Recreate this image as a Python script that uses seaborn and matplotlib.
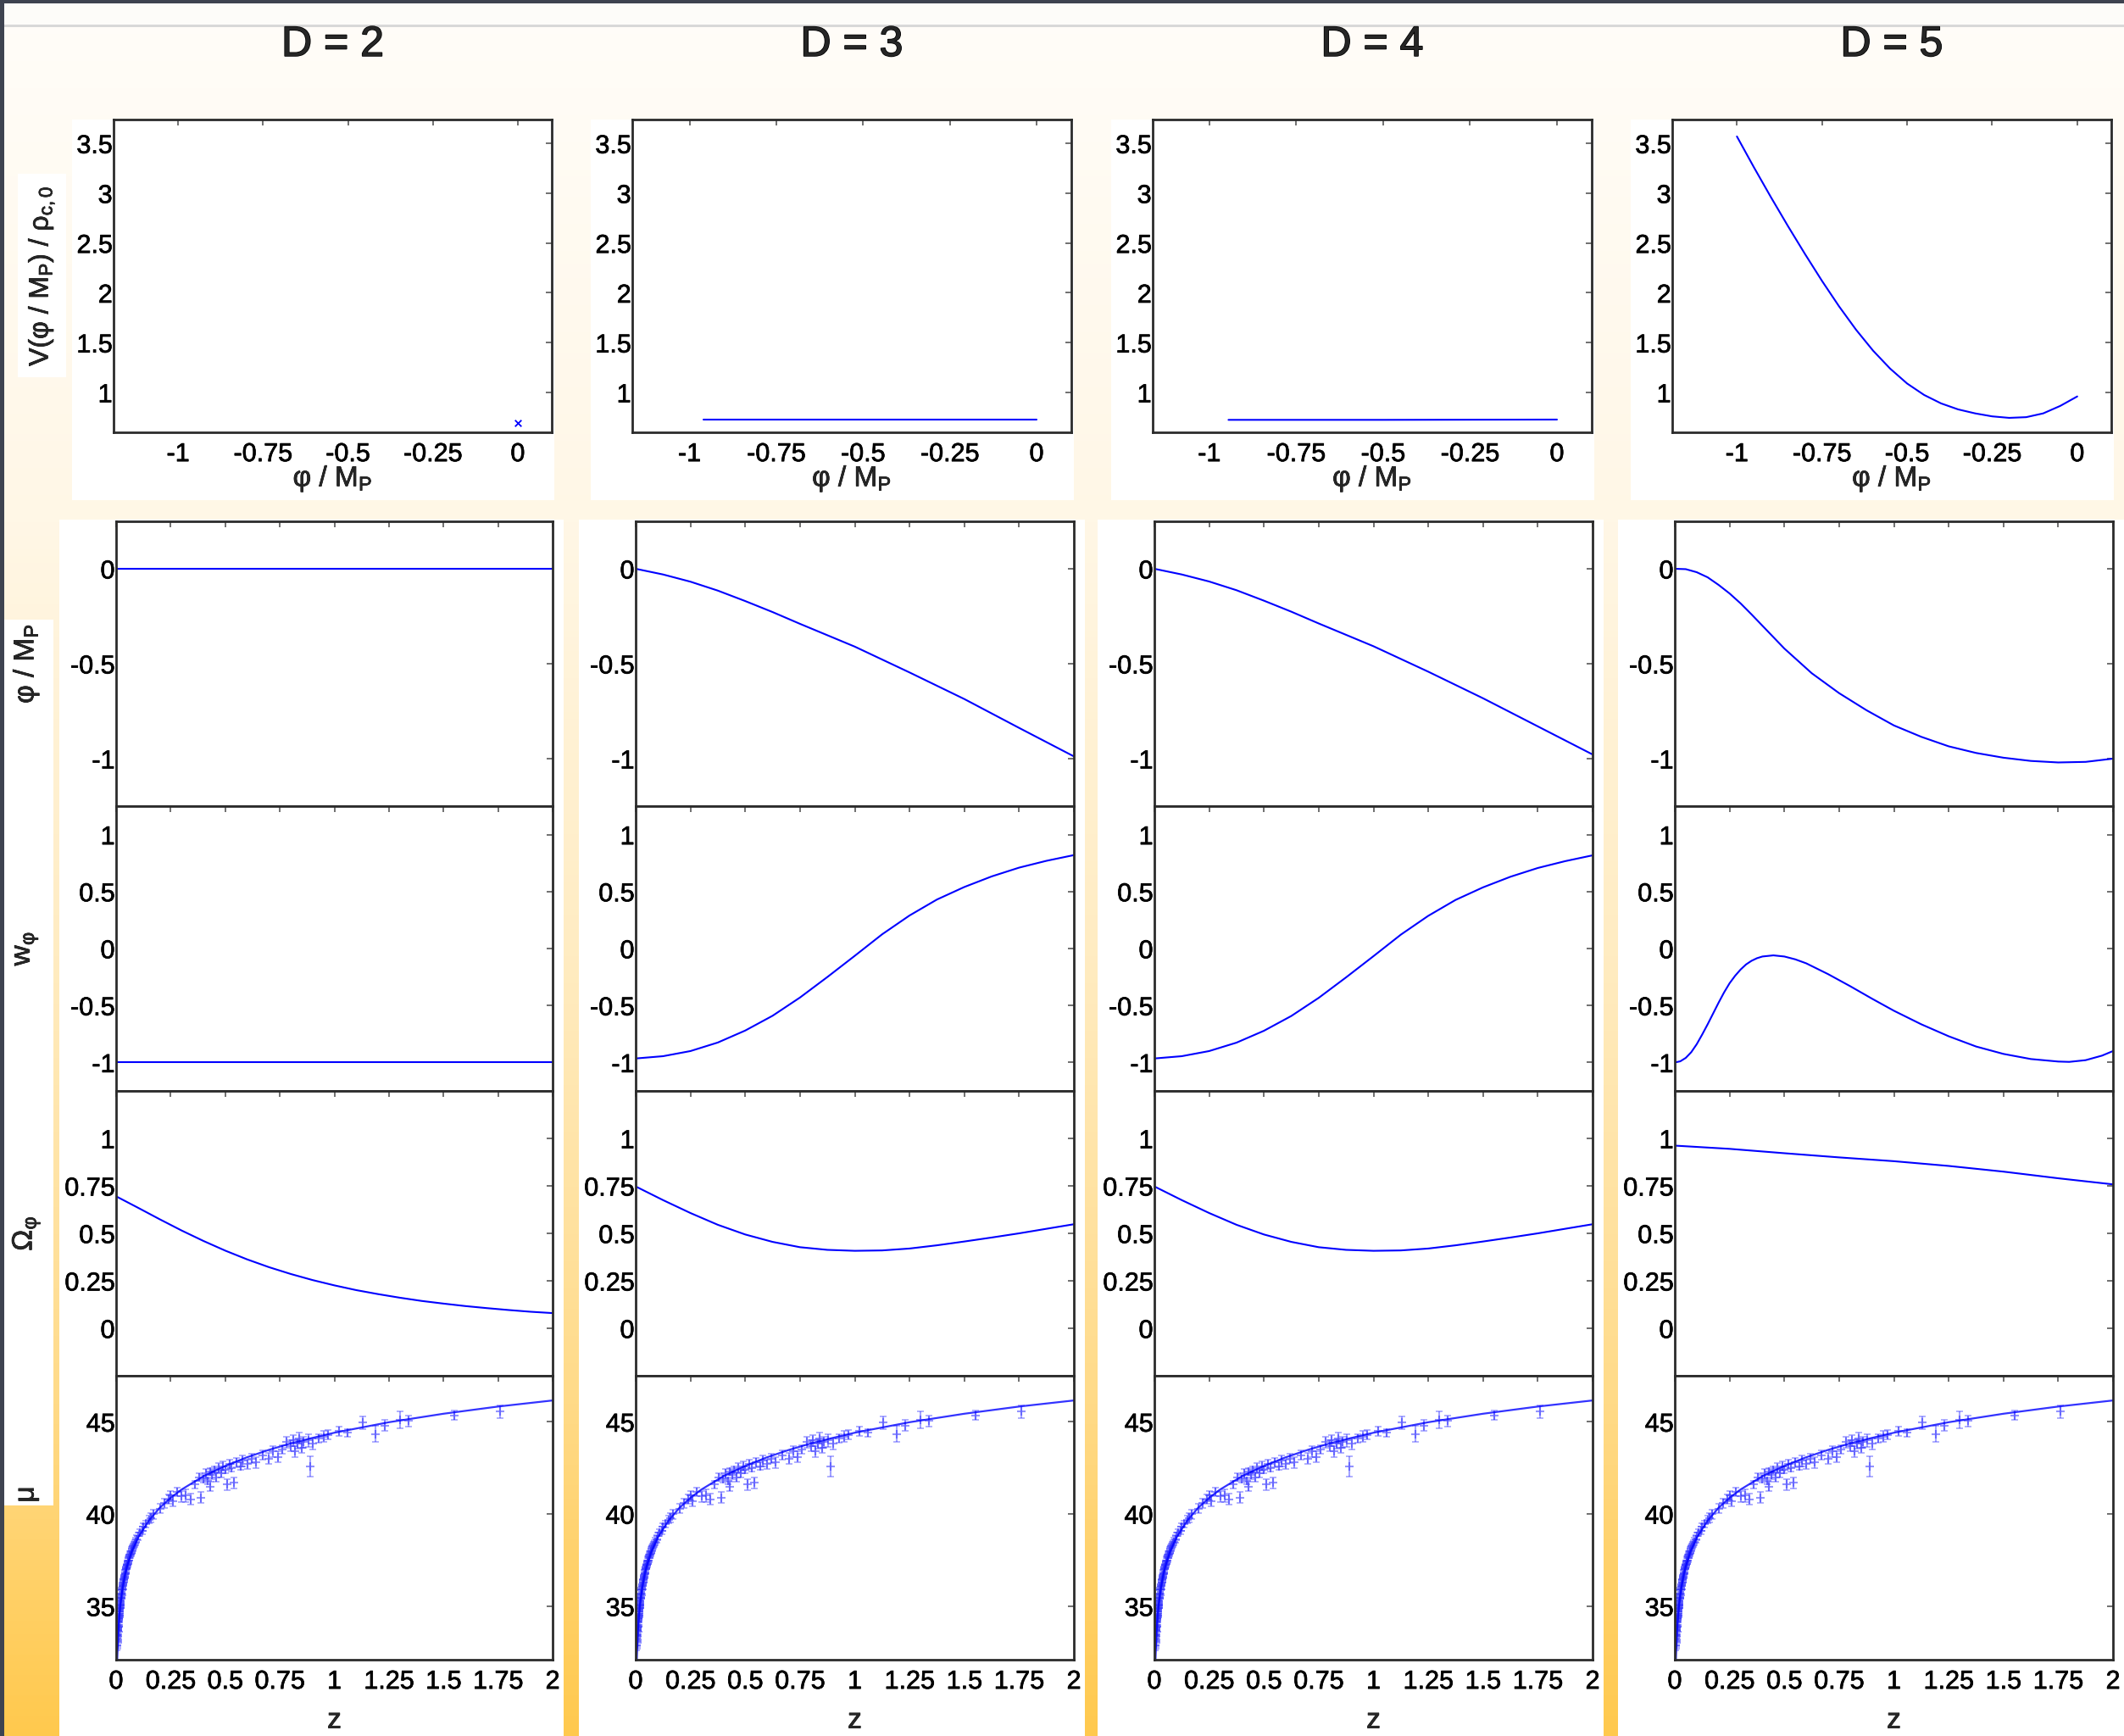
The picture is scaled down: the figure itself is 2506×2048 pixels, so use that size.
import numpy as np
import matplotlib
matplotlib.use("Agg")
import matplotlib.pyplot as plt
from matplotlib.patches import Rectangle
from matplotlib.colors import LinearSegmentedColormap
import matplotlib.patheffects as pe
import seaborn as sns

sns.set_style("white")
plt.rcParams["font.family"] = ["Liberation Sans", "DejaVu Sans"]
plt.rcParams["mathtext.fontset"] = "custom"
plt.rcParams["mathtext.rm"] = "Liberation Sans"
plt.rcParams["mathtext.it"] = "Liberation Sans:italic"
plt.rcParams["mathtext.bf"] = "Liberation Sans:bold"
plt.rcParams["axes.unicode_minus"] = False

# ---------------- data ----------------
d_values = [2, 3, 4, 5]

# top row: potential V(phi)
v_phi_d2 = [0.0]
v_val_d2 = [0.69]
v_phi_d3 = [-0.96, -0.5, 0.0]
v_val_d3 = [0.73, 0.73, 0.73]
v_phi_d4 = [-0.945, -0.5, 0.0]
v_val_d4 = [0.725, 0.725, 0.728]
v_phi_d5 = [-1.0, -0.95, -0.9, -0.85, -0.8, -0.75, -0.7, -0.65, -0.6, -0.55,
            -0.5, -0.45, -0.4, -0.35, -0.3, -0.25, -0.2, -0.15, -0.1, -0.05, 0.0]
v_val_d5 = [3.57, 3.26, 2.96, 2.67, 2.39, 2.12, 1.865, 1.63, 1.42, 1.24,
            1.09, 0.975, 0.89, 0.83, 0.79, 0.76, 0.745, 0.752, 0.79, 0.865, 0.96]

# redshift grids
z_fine = [0.0, 0.125, 0.25, 0.375, 0.5, 0.625, 0.75, 0.875, 1.0,
          1.125, 1.25, 1.375, 1.5, 1.625, 1.75, 1.875, 2.0]
z_tenth = [0.0, 0.1, 0.2, 0.3, 0.4, 0.5, 0.6, 0.7, 0.8, 0.9, 1.0,
           1.1, 1.2, 1.3, 1.4, 1.5, 1.6, 1.7, 1.8, 1.9, 2.0]

# D = 2
phi_d2 = [0.0, 0.0]
w_d2 = [-1.0, -1.0]
z_flat = [0.0, 2.0]
omega_d2 = [0.695, 0.635, 0.574, 0.515, 0.460, 0.409, 0.363, 0.322, 0.286,
            0.254, 0.226, 0.201, 0.180, 0.161, 0.144, 0.130, 0.117, 0.106,
            0.096, 0.087, 0.080]

# D = 3
phi_d3 = [0.0, -0.03, -0.068, -0.115, -0.17, -0.228, -0.29, -0.35, -0.41,
          -0.478, -0.546, -0.616, -0.686, -0.762, -0.838, -0.913, -0.988]
w_d3 = [-0.965, -0.945, -0.90, -0.825, -0.72, -0.59, -0.43, -0.25, -0.064,
        0.125, 0.29, 0.43, 0.54, 0.633, 0.71, 0.77, 0.82]
omega_d3 = [0.747, 0.675, 0.607, 0.545, 0.494, 0.455, 0.427, 0.413, 0.408,
            0.41, 0.42, 0.437, 0.457, 0.478, 0.50, 0.524, 0.548]

# D = 4
phi_d4 = [0.0, -0.03, -0.067, -0.113, -0.168, -0.226, -0.288, -0.348, -0.408,
          -0.475, -0.542, -0.612, -0.682, -0.756, -0.83, -0.904, -0.978]
w_d4 = [-0.965, -0.945, -0.90, -0.826, -0.722, -0.592, -0.433, -0.253, -0.067,
        0.122, 0.287, 0.427, 0.537, 0.63, 0.707, 0.767, 0.818]
omega_d4 = [0.747, 0.675, 0.607, 0.545, 0.494, 0.455, 0.427, 0.413, 0.408,
            0.41, 0.42, 0.437, 0.457, 0.478, 0.50, 0.524, 0.548]

# D = 5
z_phi_d5 = [0.0, 0.05, 0.1, 0.15, 0.2, 0.25, 0.3, 0.35, 0.4, 0.45, 0.5,
            0.625, 0.75, 0.875, 1.0, 1.125, 1.25, 1.375, 1.5, 1.625, 1.75,
            1.875, 2.0]
phi_d5 = [0.0, -0.002, -0.018, -0.045, -0.085, -0.13, -0.182, -0.24, -0.3,
          -0.36, -0.42, -0.55, -0.655, -0.745, -0.825, -0.885, -0.935, -0.97,
          -0.995, -1.012, -1.02, -1.017, -1.0]
z_w_d5 = [0.0, 0.025, 0.05, 0.075, 0.1, 0.125, 0.15, 0.175, 0.2, 0.225, 0.25,
          0.275, 0.3, 0.325, 0.35, 0.375, 0.4, 0.45, 0.5, 0.55, 0.6, 0.7, 0.8,
          0.9, 1.0, 1.125, 1.25, 1.375, 1.5, 1.625, 1.75, 1.8, 1.875, 1.95, 2.0]
w_d5 = [-1.0, -0.99, -0.96, -0.91, -0.84, -0.755, -0.665, -0.57, -0.475,
        -0.385, -0.305, -0.24, -0.185, -0.14, -0.108, -0.085, -0.07, -0.06,
        -0.07, -0.095, -0.13, -0.225, -0.33, -0.44, -0.546, -0.665, -0.77,
        -0.86, -0.925, -0.97, -0.992, -0.995, -0.98, -0.94, -0.90]
z_omega_d5 = [0.0, 0.25, 0.5, 0.75, 1.0, 1.25, 1.5, 1.75, 2.0]
omega_d5 = [0.962, 0.945, 0.922, 0.90, 0.88, 0.855, 0.825, 0.79, 0.758]

# distance modulus curve
z_mu = [0.005, 0.01, 0.015, 0.02, 0.03, 0.04, 0.05, 0.07, 0.1, 0.15, 0.2,
        0.25, 0.3, 0.4, 0.5, 0.6, 0.7, 0.8, 0.9, 1.0, 1.25, 1.5, 1.75, 2.0]
mu_curve = [32.08, 33.60, 34.48, 35.12, 36.01, 36.66, 37.16, 37.92, 38.71,
            39.65, 40.34, 40.88, 41.33, 42.05, 42.61, 43.08, 43.48, 43.83,
            44.13, 44.41, 44.98, 45.44, 45.83, 46.16]

# supernova data (z, mu, error)
sn_z = [0.0055, 0.006, 0.0065, 0.007, 0.0075, 0.008, 0.0085, 0.009, 0.0095,
        0.010, 0.0105, 0.011, 0.0115, 0.012, 0.0125, 0.013, 0.0135, 0.014,
        0.0145, 0.015, 0.0155, 0.016, 0.0165, 0.017, 0.0175, 0.018, 0.0185,
        0.019, 0.0195, 0.020, 0.0205, 0.021, 0.022, 0.023, 0.024, 0.025,
        0.026, 0.027, 0.028, 0.029, 0.030, 0.031, 0.032, 0.033, 0.034, 0.035,
        0.036, 0.037, 0.038, 0.040, 0.041, 0.042, 0.044, 0.045, 0.047, 0.048,
        0.050, 0.052, 0.053, 0.055, 0.056, 0.058, 0.060, 0.062, 0.063, 0.066,
        0.068, 0.070, 0.073, 0.075, 0.078, 0.080, 0.085, 0.090, 0.095,
        0.10, 0.11, 0.12, 0.125, 0.135, 0.15, 0.16, 0.17, 0.20, 0.22, 0.24,
        0.25, 0.26,
        0.28, 0.30, 0.32, 0.34, 0.36, 0.38, 0.39, 0.40, 0.41, 0.42, 0.43,
        0.43, 0.44, 0.45, 0.46, 0.47, 0.48, 0.49, 0.50, 0.51, 0.52, 0.53,
        0.54, 0.55, 0.57, 0.58, 0.60, 0.62, 0.64, 0.67, 0.70, 0.72, 0.74,
        0.76, 0.78, 0.80, 0.81, 0.82, 0.83, 0.84, 0.85, 0.86, 0.88, 0.89,
        0.90, 0.93, 0.95, 0.97, 1.02, 1.06, 1.13, 1.19, 1.23, 1.30, 1.34,
        1.55, 1.76]
sn_mu = [32.9, 33.1, 33.0, 33.2, 33.4, 33.5, 33.7, 33.8, 33.7,
         33.6, 33.9, 34.0, 34.1, 33.9, 34.2, 34.3, 34.35, 34.4,
         34.5, 34.6, 34.7, 34.5, 34.65, 34.8, 34.9, 34.9, 35.05,
         35.0, 35.1, 35.2, 35.25, 35.1, 35.4, 35.45, 35.5, 35.7,
         35.6, 35.85, 35.9, 36.0, 36.1, 35.9, 36.2, 36.3, 36.35, 36.4,
         36.45, 36.5, 36.6, 36.7, 36.75, 36.8, 36.95, 37.0, 37.05, 37.1,
         37.2, 37.25, 37.3, 37.4, 37.5, 37.5, 37.6, 37.7, 37.8, 37.8,
         37.9, 38.0, 38.05, 38.1, 38.2, 38.3, 38.4, 38.5, 38.65,
         38.8, 39.0, 39.1, 39.3, 39.45, 39.7, 39.8, 40.0, 40.3, 40.6, 40.8,
         41.0, 40.7,
         41.2, 40.95, 41.0, 40.8, 41.6, 42.0, 40.9, 41.9, 42.2, 41.8, 42.3,
         41.5, 42.1, 42.4, 42.0, 42.5, 42.2, 42.6, 42.4, 41.6, 42.7, 42.5,
         41.7, 42.8, 42.6, 42.9, 42.7, 43.0, 42.8, 43.2, 43.0, 43.4, 43.1,
         43.5, 43.9, 43.7, 44.0, 43.4, 43.8, 44.1, 43.6, 43.9, 44.0, 42.6,
         43.8, 44.1, 44.2, 44.3, 44.5, 44.4, 44.95, 44.35, 44.8, 45.1, 45.05,
         45.35, 45.55]
sn_err = [0.3, 0.3, 0.3, 0.3, 0.3, 0.25, 0.25, 0.25, 0.25,
          0.25, 0.25, 0.2, 0.25, 0.25, 0.2, 0.2, 0.2, 0.2,
          0.2, 0.2, 0.2, 0.2, 0.2, 0.2, 0.2, 0.2, 0.2,
          0.2, 0.2, 0.2, 0.2, 0.2, 0.2, 0.2, 0.2, 0.2,
          0.2, 0.2, 0.2, 0.2, 0.2, 0.2, 0.2, 0.2, 0.2, 0.2,
          0.2, 0.2, 0.2, 0.2, 0.2, 0.2, 0.2, 0.2, 0.2, 0.2,
          0.2, 0.2, 0.2, 0.2, 0.2, 0.2, 0.2, 0.2, 0.2, 0.2,
          0.2, 0.2, 0.2, 0.2, 0.2, 0.2, 0.2, 0.2, 0.2,
          0.2, 0.2, 0.2, 0.2, 0.2, 0.2, 0.25, 0.25, 0.25, 0.25, 0.25,
          0.25, 0.3,
          0.25, 0.3, 0.35, 0.3, 0.2, 0.2, 0.3, 0.2, 0.25, 0.2, 0.2,
          0.25, 0.2, 0.2, 0.25, 0.25, 0.2, 0.25, 0.2, 0.3, 0.25, 0.2,
          0.3, 0.25, 0.2, 0.3, 0.25, 0.25, 0.3, 0.25, 0.3, 0.3, 0.3,
          0.25, 0.3, 0.3, 0.3, 0.3, 0.25, 0.3, 0.3, 0.3, 0.35, 0.55,
          0.3, 0.25, 0.3, 0.25, 0.25, 0.2, 0.35, 0.45, 0.3, 0.45, 0.3,
          0.25, 0.35]

# tick labels
top_xticks = [-1, -0.75, -0.5, -0.25, 0]
top_xticklabels = ["-1", "-0.75", "-0.5", "-0.25", "0"]
top_yticks = [1, 1.5, 2, 2.5, 3, 3.5]
top_yticklabels = ["1", "1.5", "2", "2.5", "3", "3.5"]
z_ticks = [0, 0.25, 0.5, 0.75, 1, 1.25, 1.5, 1.75, 2]
z_ticklabels = ["0", "0.25", "0.5", "0.75", "1", "1.25", "1.5", "1.75", "2"]
phi_ticks = [-1, -0.5, 0]
phi_ticklabels = ["-1", "-0.5", "0"]
w_ticks = [-1, -0.5, 0, 0.5, 1]
w_ticklabels = ["-1", "-0.5", "0", "0.5", "1"]
omega_ticks = [0, 0.25, 0.5, 0.75, 1]
omega_ticklabels = ["0", "0.25", "0.5", "0.75", "1"]
mu_ticks = [35, 40, 45]
mu_ticklabels = ["35", "40", "45"]

# ---------------- layout (pixels) ----------------
W, H = 2506, 2048
fig = plt.figure(figsize=(W / 100, H / 100), dpi=100)

def frac(l, r, t, b):
    return [l / W, 1 - b / H, (r - l) / W, (b - t) / H]

top_cols = [(134, 651), (746, 1264), (1360, 1878), (1973, 2491)]
low_cols = [(137, 652), (750, 1267), (1362, 1879), (1976, 2493)]
top_row = (141, 510)
low_rows = [(615, 951), (951, 1287), (1287, 1623), (1623, 1958)]

# background slide
bg = fig.add_axes([0, 0, 1, 1])
bg.set_zorder(-5)
bg.set_xlim(0, W)
bg.set_ylim(H, 0)
bg.axis("off")
cmap = LinearSegmentedColormap.from_list(
    "slide", [(0.0, "#FFFDF9"), (0.3, "#FFF7E6"), (0.55, "#FFECC2"),
              (0.8, "#FFDB8A"), (1.0, "#FFC94E")])
bg.imshow(np.linspace(0, 1, 512).reshape(-1, 1), cmap=cmap,
          extent=[0, W, H, 0], aspect="auto")
bg.add_patch(Rectangle((0, 3), W, 27, color="#FDFCF9", lw=0))
bg.add_patch(Rectangle((0, 29), W, 2.5, color="#D8D8D8", lw=0))
bg.add_patch(Rectangle((0, 0), W, 3.5, color="#3E4350", lw=0))
bg.add_patch(Rectangle((0, 0), 5, H, color="#3E4350", lw=0))
for (l, r) in top_cols:
    bg.add_patch(Rectangle((l - 49, 141), (r + 3) - (l - 49), 590 - 141,
                           color="white", lw=0))
bg.add_patch(Rectangle((21, 205), 57, 240, color="white", lw=0))
for (l, r) in low_cols:
    bg.add_patch(Rectangle((l - 67, 613), (r + 13) - (l - 67), H - 613,
                           color="white", lw=0))
bg.add_patch(Rectangle((5, 731), 58, 1776 - 731, color="white", lw=0))

BLUE = "#0000FF"
TICKSIZE = 22
LABELSIZE = 24
BOLDEN = [pe.withStroke(linewidth=0.5, foreground="black")]

def style_axes(ax):
    ax.set_facecolor("white")
    for s in ax.spines.values():
        s.set_color("#2B2B2B")
        s.set_linewidth(2.0)
        s.set_visible(True)
    ax.tick_params(which="both", direction="in", length=5, width=1.4,
                   color="#707070", top=True, right=True,
                   labelsize=TICKSIZE, labelcolor="black")
    ax.tick_params(axis="y", pad=1)
    ax.tick_params(axis="x", pad=8)
    ax.grid(False)

top_data = [(v_phi_d2, v_val_d2), (v_phi_d3, v_val_d3),
            (v_phi_d4, v_val_d4), (v_phi_d5, v_val_d5)]
top_xlims = [(-1.19, 0.1), (-1.165, 0.1), (-1.163, 0.1), (-1.19, 0.1)]

low_data = [
    [(z_flat, phi_d2), (z_flat, w_d2), (z_tenth, omega_d2)],
    [(z_fine, phi_d3), (z_fine, w_d3), (z_fine, omega_d3)],
    [(z_fine, phi_d4), (z_fine, w_d4), (z_fine, omega_d4)],
    [(z_phi_d5, phi_d5), (z_w_d5, w_d5), (z_omega_d5, omega_d5)],
]
low_ylims = [(-1.25, 0.25), (-1.25, 1.25), (-0.25, 1.25), (32.1, 47.5)]
low_yticks = [(phi_ticks, phi_ticklabels), (w_ticks, w_ticklabels),
              (omega_ticks, omega_ticklabels), (mu_ticks, mu_ticklabels)]
low_ylabels = ["φ / M$_\\mathrm{P}$", "w$_\\mathrm{φ}$", "Ω$_\\mathrm{φ}$", "μ"]

texts = []
for c, d in enumerate(d_values):
    # ---- top row: potential
    l, r = top_cols[c]
    ax = fig.add_axes(frac(l, r, *top_row))
    style_axes(ax)
    px, py = top_data[c]
    if c == 0:
        sns.scatterplot(x=px, y=py, ax=ax, marker="x", s=30, color=BLUE,
                        linewidth=1.3)
    else:
        sns.lineplot(x=px, y=py, ax=ax, color=BLUE, lw=1.5, sort=False)
    ax.set_xlim(*top_xlims[c])
    ax.set_ylim(0.6, 3.74)
    ax.set_xticks(top_xticks)
    ax.set_xticklabels(top_xticklabels)
    ax.set_yticks(top_yticks)
    ax.set_yticklabels(top_yticklabels)
    ax.set_xlabel("φ / M$_\\mathrm{P}$", fontsize=LABELSIZE)
    ax.xaxis.label.set_va("center")
    ax.xaxis.set_label_coords(0.5, -(565 - 510) / (510 - 141))
    if c == 0:
        ax.set_ylabel("V(φ / M$_\\mathrm{P}$) / ρ$_\\mathrm{c,0}$",
                      fontsize=LABELSIZE - 1)
        ax.yaxis.label.set_va("center")
        ax.yaxis.set_label_coords((49 - l) / (r - l), 0.5)
    else:
        ax.set_ylabel("")
    texts.append(fig.text((l + r) / 2 / W, 1 - 53 / H, f"D = {d}",
                          fontsize=36, ha="center", va="center"))

    # ---- lower block
    l, r = low_cols[c]
    for k, (t, b) in enumerate(low_rows):
        ax = fig.add_axes(frac(l, r, t, b))
        style_axes(ax)
        if k < 3:
            zx, yy = low_data[c][k]
            sns.lineplot(x=zx, y=yy, ax=ax, color=BLUE, lw=1.5, sort=False)
        else:
            ax.errorbar(sn_z, sn_mu, yerr=sn_err, fmt="none",
                        ecolor=(0.2, 0.2, 1.0, 0.45), elinewidth=1.5,
                        capsize=3, capthick=1.2)
            sns.scatterplot(x=sn_z, y=sn_mu, ax=ax, marker="+", s=60,
                            color=(0.15, 0.15, 1.0), alpha=0.5, linewidth=1.5)
            sns.lineplot(x=z_mu, y=mu_curve, ax=ax, color=BLUE, lw=1.6,
                         alpha=0.8, sort=False)
        ax.set_xlim(0, 2)
        ax.set_ylim(*low_ylims[k])
        ax.set_xticks(z_ticks)
        ax.set_yticks(low_yticks[k][0])
        ax.set_yticklabels(low_yticks[k][1])
        if k == 3:
            ax.set_xticklabels(z_ticklabels)
            ax.set_xlabel("z", fontsize=LABELSIZE)
            ax.xaxis.label.set_va("center")
            ax.xaxis.set_label_coords(0.5, -(2030 - 1958) / (1958 - 1623))
        else:
            ax.tick_params(axis="x", labelbottom=False)
            ax.set_xlabel("")
        if c == 0:
            ax.set_ylabel(low_ylabels[k], fontsize=LABELSIZE)
            ax.yaxis.label.set_va("center")
            ycen = 0.5 if k < 3 else (1958 - 1763) / (1958 - 1623)
            ax.yaxis.set_label_coords((31 - l) / (r - l), ycen)
        else:
            ax.set_ylabel("")

# slightly heavier text, as in the rendered slide
for ax in fig.axes[1:]:
    for tk in ax.xaxis.get_major_ticks() + ax.yaxis.get_major_ticks():
        tk.label1.set_path_effects(BOLDEN)
    ax.xaxis.label.set_path_effects(BOLDEN)
    ax.yaxis.label.set_path_effects(BOLDEN)
for t in texts:
    t.set_path_effects([pe.withStroke(linewidth=1.1, foreground="black")])

fig.savefig("out.png", dpi=100)
